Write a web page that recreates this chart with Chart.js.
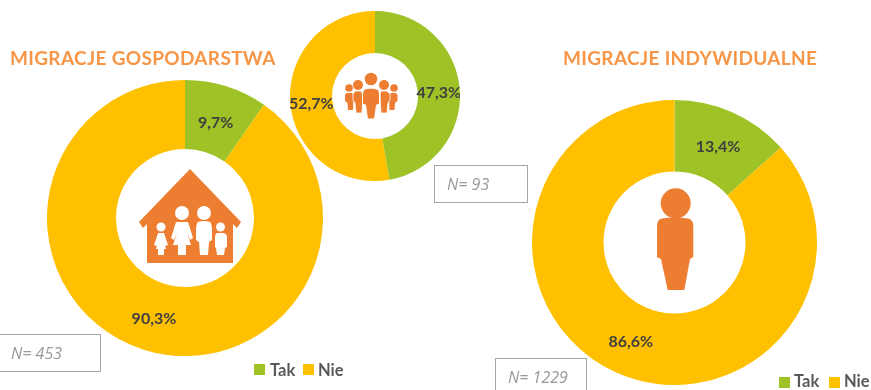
<!DOCTYPE html>
<html>
<head>
<meta charset="utf-8">
<script src="https://cdn.jsdelivr.net/npm/chart.js@4"></script>
<style>
html, body { margin: 0; padding: 0; background: #fff; }
#page { position: relative; width: 871px; height: 390px; overflow: hidden; font-family: Lato, sans-serif; }
canvas { position: absolute; }
svg { position: absolute; left: 0; top: 0; }
.title { position: absolute; font-weight: bold; font-size: 19px; letter-spacing: .33px; color: #f79646; white-space: nowrap; line-height: 22px; }
.nbox { position: absolute; box-sizing: border-box; border: 1.5px solid #a6a6a6; color: #999; font-style: italic; font-size: 16px; display: flex; align-items: center; padding-left: 12px; font-family: "Open Sans", sans-serif; }
.swatch { position: absolute; width: 11px; height: 11px; }
.leg { position: absolute; font-weight: bold; font-size: 16.5px; color: #595959; line-height: 18px; }
</style>
</head>
<body>
<div id="page">
  <canvas id="chartGospodarstwa" style="left:47px;top:80px"></canvas>
  <canvas id="chartGrupa" style="left:290px;top:11px"></canvas>
  <canvas id="chartIndywidualne" style="left:532px;top:100px"></canvas>

  <svg width="871" height="390" fill="#ed7d31">
    <!-- dom -->
    <path d="M190 169 L241 222 L237 228 L233 224 L233 263 L147 263 L147 224 L143 228 L139 222 Z"/>
    <g fill="#fff">
      <circle cx="161" cy="227" r="4.5"/>
      <path d="M158 233 L164 233 L168 245 L165 246 L164 241 L166 249 L164 249 L164 255 L158 255 L158 249 L156 249 L158 241 L157 246 L154 245 Z"/>
      <circle cx="182" cy="213" r="7"/>
      <path d="M176 222 L188 222 L193 238 L190 240 L187 233 L191 245 L186 245 L186 255 L178 255 L178 245 L173 245 L177 233 L174 240 L171 238 Z"/>
      <circle cx="204" cy="213" r="7"/>
      <path d="M198 222 Q204 220 210 222 Q212 224 212 230 L212 240 L209 242 L208 255 L200 255 L199 242 L196 240 L196 230 Q196 224 198 222 Z"/>
      <circle cx="220.500" cy="227" r="4.5"/>
      <path d="M217 233 L224 233 Q227 234 227 237 L227 247 L225 248 L224 255 L217 255 L216 248 L215 247 L215 237 Q215 234 217 233 Z"/>
    </g>
    <!-- osoba -->
    <circle cx="675.700" cy="203.300" r="15"/>
    <path d="M662 218.500 Q675 216.500 688 218.500 Q693.300 219.500 693.300 226 L693.300 257 L690 259 L684.300 290 L667.700 290 L661 259 L657 257 L657 226 Q657 219.500 662 218.500 Z"/>
    <!-- grupa -->
    <circle cx="349" cy="88" r="3.8"/>
    <path d="M346.500 93 L352 93 L353.500 96 L353 110 L348 110 L347.500 103 L345 101 L345 95 Z"/>
    <circle cx="394" cy="88" r="3.8"/>
    <path d="M391 93 L396 93 L397.500 95 L397.500 101 L395 103 L394.500 110 L389.500 110 L389 96 Z"/>
    <circle cx="358" cy="85" r="5"/>
    <path d="M355 91 L361 91 L363 95 L362 113 L356 113 L355 103 L353 100 L353 94 Z" stroke="#fff" stroke-width=".8"/>
    <circle cx="384" cy="85" r="5"/>
    <path d="M381 91 L387 91 L390 94 L390 100 L388 103 L387 113 L381 113 L380 95 Z" stroke="#fff" stroke-width=".8"/>
    <circle cx="371" cy="79" r="6.300"/>
    <path d="M365 89 Q371 87 377 89 Q379.500 90 379.500 94 L379.500 104 L376.500 105 L374.500 119 L367.500 119 L365.500 105 L362.500 104 L362.500 94 Q362.500 90 365 89 Z" stroke="#fff" stroke-width="1"/>
  </svg>

  <div class="title" style="left:10px;top:47px">MIGRACJE GOSPODARSTWA</div>
  <div class="title" style="left:563px;top:47px">MIGRACJE INDYWIDUALNE</div>

  <div class="nbox" style="left:-2px;top:334px;width:103px;height:38px" id="nGospodarstwa"></div>
  <div class="nbox" style="left:434px;top:165px;width:94px;height:38px" id="nGrupa"></div>
  <div class="nbox" style="left:495px;top:358px;width:92px;height:38px" id="nIndywidualne"></div>

  <div class="swatch" style="left:254px;top:364px;background:#9fc226"></div>
  <div class="leg" style="left:270px;top:361px" id="legTak1"></div>
  <div class="swatch" style="left:303px;top:364px;background:#ffc000"></div>
  <div class="leg" style="left:318px;top:361px" id="legNie1"></div>
  <div class="swatch" style="left:779px;top:377px;background:#9fc226"></div>
  <div class="leg" style="left:794px;top:372px" id="legTak2"></div>
  <div class="swatch" style="left:829px;top:377px;background:#ffc000"></div>
  <div class="leg" style="left:844px;top:372px" id="legNie2"></div>
</div>

<script>
const categories = ['Tak', 'Nie'];
const gospodarstwa = [9.7, 90.3];
const grupa = [47.3, 52.7];
const indywidualne = [13.4, 86.6];

const nGospodarstwa = 'N= 453';
const nGrupa = 'N= 93';
const nIndywidualne = 'N= 1229';

const colors = ['#9fc226', '#ffc000'];

document.getElementById('nGospodarstwa').textContent = nGospodarstwa;
document.getElementById('nGrupa').textContent = nGrupa;
document.getElementById('nIndywidualne').textContent = nIndywidualne;
document.getElementById('legTak1').textContent = categories[0];
document.getElementById('legNie1').textContent = categories[1];
document.getElementById('legTak2').textContent = categories[0];
document.getElementById('legNie2').textContent = categories[1];

// wartosci na wycinkach, z przecinkiem jak w oryginale
const sliceLabels = {
  id: 'sliceLabels',
  afterDatasetsDraw(chart, args, opts) {
    const ctx = chart.ctx;
    const meta = chart.getDatasetMeta(0);
    ctx.save();
    ctx.font = 'bold 16px Lato, sans-serif';
    ctx.fillStyle = '#404040';
    ctx.textAlign = 'center';
    ctx.textBaseline = 'middle';
    meta.data.forEach(function (arc, i) {
      const p = arc.getCenterPoint();
      const shift = opts.shift ? opts.shift[i] : 0;
      const len = Math.hypot(p.x - arc.x, p.y - arc.y);
      const x = p.x + (p.x - arc.x) / len * shift;
      const y = p.y + (p.y - arc.y) / len * shift + 2;
      const value = chart.data.datasets[0].data[i];
      ctx.fillText(value.toFixed(1).replace('.', ',') + '%', x, y);
    });
    ctx.restore();
  }
};

function donut(id, values, size, hole, shift) {
  const canvas = document.getElementById(id);
  canvas.width = size;
  canvas.height = size;
  new Chart(canvas, {
    type: 'doughnut',
    data: {
      labels: categories,
      datasets: [{
        data: values,
        backgroundColor: colors,
        borderWidth: 0
      }]
    },
    options: {
      responsive: false,
      animation: false,
      cutout: hole,
      plugins: {
        legend: { display: false },
        tooltip: { enabled: false },
        sliceLabels: { shift: shift }
      }
    },
    plugins: [sliceLabels]
  });
}

donut('chartGospodarstwa', gospodarstwa, 276, 69, [-1.5, 0]);
donut('chartGrupa', grupa, 170, 43, [0, 0]);
donut('chartIndywidualne', indywidualne, 285, 71, [0, 0]);
</script>
</body>
</html>
